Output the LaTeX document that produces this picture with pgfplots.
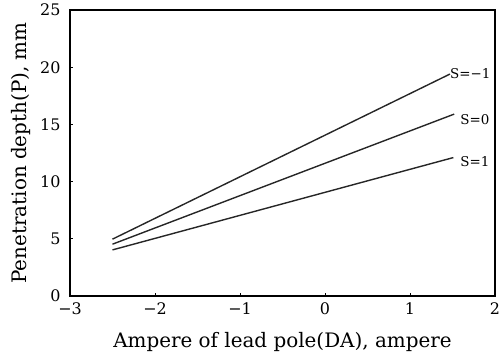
\documentclass[border=0pt]{standalone}
\usepackage{fontspec}
\setmainfont{DejaVu Serif}
\usepackage{pgfplots}
\pgfplotsset{compat=1.18}
\begin{document}
\begin{tikzpicture}
\begin{axis}[
  scale only axis,
  width=425bp, height=286bp,
  xmin=-3, xmax=2, ymin=0, ymax=25,
  xtick={-3,-2,-1,0,1,2},
  xticklabels={−3,−2,−1,0,1,2},
  ytick={0,5,10,15,20,25},
  yticklabels={0,5,10,15,20,25},
  tick align=inside,
  xtick pos=bottom, ytick pos=left,
  major tick length=3bp,
  axis line style={line width=1.4bp},
  tick style={black, line width=0.8bp},
  ticklabel style={font=\fontsize{16}{19}\selectfont},
  xticklabel style={yshift=-3bp},
  yticklabel style={xshift=-6bp},
  xlabel={Ampere of lead pole(DA), ampere},
  ylabel={Penetration depth(P), mm},
  label style={font=\fontsize{20}{24}\selectfont},
  xlabel style={at={(axis description cs:0.5,0)}, anchor=base, yshift=-51bp},
  ylabel style={at={(axis description cs:0,0.5)}, anchor=base, yshift=43bp},
  clip=false,
]
\addplot[black!85, line width=1.4bp] coordinates {(-2.5,4.97) (1.47,19.4)};
\addplot[black!85, line width=1.4bp] coordinates {(-2.5,4.53) (1.52,15.9)};
\addplot[black!85, line width=1.4bp] coordinates {(-2.5,4.03) (1.51,12.1)};
\node[anchor=west, inner sep=0pt, font=\fontsize{13.5}{16}\selectfont] at (axis cs:1.47,19.4) {S=−1};
\node[anchor=west, inner sep=0pt, font=\fontsize{13.5}{16}\selectfont] at (axis cs:1.59,15.45) {S=0};
\node[anchor=west, inner sep=0pt, font=\fontsize{13.5}{16}\selectfont] at (axis cs:1.59,11.75) {S=1};
\end{axis}
\pgfresetboundingbox
\path (-70bp,-58bp) rectangle (431bp,296bp);
\end{tikzpicture}
\end{document}
